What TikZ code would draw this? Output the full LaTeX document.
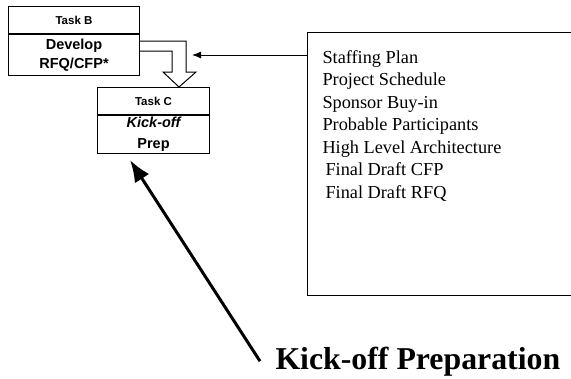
\documentclass[tikz,border=0pt]{standalone}
\usepackage{fontspec}
\setmainfont{Liberation Serif}
\setsansfont{Liberation Sans}
\usetikzlibrary{calc, arrows.meta, positioning}

\begin{document}
\begin{tikzpicture}[x=1pt, y=-1pt, line width=1pt,
    taskhead/.style={draw, inner sep=0pt, minimum height=27pt,
                     font=\sffamily\bfseries\fontsize{11.5}{12}\selectfont},
    taskbody/.style={draw, inner sep=0pt, align=center,
                     font=\sffamily\bfseries\fontsize{14.5}{19}\selectfont}]
\useasboundingbox (0,0) rectangle (571,378);

% Task B and Task C, header on top of body
\node[taskhead, minimum width=131pt, anchor=north west] (headB) at (8,6) {Task B};
\node[taskbody, minimum width=131pt, minimum height=41pt, below=0pt of headB] (taskB)
    {Develop\\RFQ/CFP*};
\node[taskhead, minimum width=112pt, anchor=north west] (headC) at (97,87) {Task C};
\node[taskbody, minimum width=112pt, minimum height=38pt, below=0pt of headC] (taskC)
    {\raisebox{2pt}{\itshape Kick-off}\\Prep};

% The hollow "arrow" from B down to C
\coordinate (tipB) at ($(headC.north west)+(82,0)$);
\draw[fill=white] ($(taskB.north east)+(0,7)$) -| ($(tipB)+(7,-15)$)
    -- ++(10,0) -- (tipB) -- ++(-16,-15) -- ++(9,0)
    |- ($(taskB.north east)+(0,17)$);

% Outputs list, right side runs off the page
\node[draw, anchor=north west, minimum width=300pt, minimum height=263pt,
      inner sep=0pt] (outputs) at (307,32) {};
\node[anchor=north west, align=left, inner sep=0pt,
      font=\fontsize{18.3}{22.5}\selectfont] (items) at (322,50)
    {Staffing Plan\\
     Project Schedule\\
     Sponsor Buy-in\\
     Probable Participants\\
     High Level Architecture\\
     \hspace{3pt}Final Draft CFP\\
     \hspace{3pt}Final Draft RFQ};
\coordinate (intoB) at (192,55);
\draw[-{Latex[length=9pt,width=7pt]}] (outputs.west |- intoB) -- (intoB);

% Big label with its arrow
\node[anchor=base west, inner sep=0pt,
      font=\bfseries\fontsize{31.8}{34}\selectfont] (kickoff) at (275,369)
    {Kick-off Preparation};
\coordinate (tipC) at ($(taskC.south west)+(33,6)$);
\draw[line width=3pt, -{Latex[length=22pt,width=17pt]}]
    ($(kickoff.west)+(-15,0)$) -- (tipC);
\end{tikzpicture}
\end{document}
